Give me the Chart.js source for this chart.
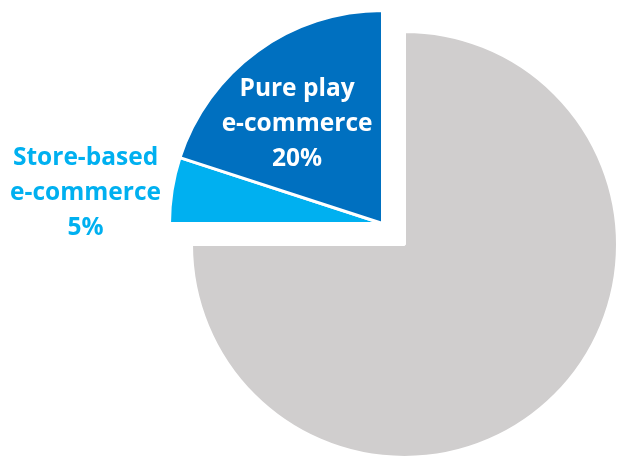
<!DOCTYPE html>
<html>
<head>
<meta charset="utf-8">
<script src="https://cdn.jsdelivr.net/npm/chart.js@4.4.1/dist/chart.umd.min.js"></script>
<style>
  html, body { margin: 0; padding: 0; background: #ffffff; overflow: hidden; }
  #wrap { position: relative; width: 617px; height: 456px; }
</style>
</head>
<body>
<div id="wrap"><canvas id="chart" width="617" height="456"></canvas></div>
<script>
// Retail sales split by channel (percent)
const categories = ['Other retail', 'Store-based e-commerce', 'Pure play e-commerce'];
const shares = [75, 5, 20];
const labelLines = [null, ['Store-based', 'e-commerce'], ['Pure play', 'e-commerce']];

// Styling
const sliceColors = ['#D0CECE', '#00B0F0', '#0070C0'];
const labelColors = [null, '#00B0F0', '#FFFFFF'];
const explodedSlices = [1, 2];           // slices pulled out together as one block
const explodeShift = { dx: -22, dy: -21 };
// label anchor (middle line baseline) relative to the slice centre, in radii
const labelAnchor = [null, { fx: -1.394, fy: -0.109 }, { fx: -0.401, fy: -0.435 }];
const labelFont = 'bold 24.5px "Open Sans", "Liberation Sans", sans-serif';
const lineGap = 35;

// Moves the exploded slices as one rigid block instead of along each bisector
const explodeBlock = {
  id: 'explodeBlock',
  afterDatasetUpdate(chart, args) {
    const arcs = args.meta.data;
    explodedSlices.forEach(i => {
      arcs[i].x += explodeShift.dx;
      arcs[i].y += explodeShift.dy;
    });
  }
};

// Writes the category name and its share next to each labelled slice
const sliceLabels = {
  id: 'sliceLabels',
  afterDatasetsDraw(chart) {
    const ctx = chart.ctx;
    const arcs = chart.getDatasetMeta(0).data;
    ctx.save();
    ctx.font = labelFont;
    ctx.textAlign = 'center';
    ctx.textBaseline = 'alphabetic';
    arcs.forEach((arc, i) => {
      if (!labelLines[i]) return;
      const a = labelAnchor[i];
      const cx = arc.x + a.fx * arc.outerRadius;
      const cy = arc.y + a.fy * arc.outerRadius;
      const lines = labelLines[i].concat([shares[i] + '%']);
      ctx.fillStyle = labelColors[i];
      lines.forEach((t, k) => {
        ctx.fillText(t, cx, cy + (k - 1) * lineGap);
      });
    });
    ctx.restore();
  }
};

new Chart(document.getElementById('chart'), {
  type: 'pie',
  data: {
    labels: categories,
    datasets: [{
      data: shares,
      backgroundColor: sliceColors,
      borderColor: '#FFFFFF',
      borderWidth: 3,
      clip: false
    }]
  },
  options: {
    responsive: false,
    animation: false,
    radius: 213,
    layout: { padding: { left: 192, top: 33, right: 0, bottom: 0 } },
    plugins: {
      legend: { display: false },
      tooltip: { enabled: false }
    },
    events: []
  },
  plugins: [explodeBlock, sliceLabels]
});
</script>
</body>
</html>
